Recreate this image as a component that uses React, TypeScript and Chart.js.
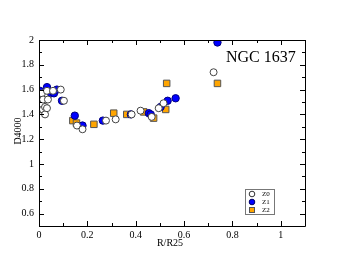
import React, { useEffect, useRef } from "react";
import { Chart, registerables } from "chart.js";

Chart.register(...registerables);

const z0X = [0.004, 0.012, 0.012, 0.016, 0.017, 0.025, 0.025, 0.033, 0.033, 0.037, 0.058, 0.09, 0.103, 0.157, 0.18, 0.277, 0.317, 0.383, 0.42, 0.466, 0.495, 0.515, 0.722];
const z0Y = [1.52, 1.57, 1.48, 1.44, 1.52, 1.46, 1.40, 1.59, 1.45, 1.52, 1.59, 1.60, 1.51, 1.31, 1.28, 1.35, 1.36, 1.40, 1.43, 1.38, 1.45, 1.49, 1.74];

const z1X = [0.004, 0.033, 0.05, 0.062, 0.074, 0.095, 0.148, 0.18, 0.264, 0.38, 0.454, 0.462, 0.503, 0.532, 0.565, 0.738];
const z1Y = [1.59, 1.62, 1.57, 1.57, 1.60, 1.51, 1.39, 1.31, 1.35, 1.40, 1.41, 1.40, 1.46, 1.51, 1.53, 1.98];

const z2X = [0.004, 0.14, 0.155, 0.227, 0.309, 0.363, 0.433, 0.474, 0.524, 0.528, 0.738];
const z2Y = [1.44, 1.35, 1.33, 1.32, 1.41, 1.40, 1.42, 1.37, 1.44, 1.65, 1.65];

const xTicks = [0, 0.2, 0.4, 0.6, 0.8, 1];
const yTicks = [0.6, 0.8, 1, 1.2, 1.4, 1.6, 1.8, 2];
const seriesNames = ["Z0", "Z1", "Z2"];
const chartTitle = "NGC 1637";
const xTitle = "R/R25";
const yTitle = "D4000";

const SERIF = "'Liberation Serif', 'DejaVu Serif', serif";

const toPts = (xs: number[], ys: number[]) => xs.map((x, i) => ({ x, y: ys[i] }));

const framePlugin = {
  id: "framePlugin",
  afterDraw(chart: any) {
    const { ctx, chartArea: a, scales } = chart;
    const xs = scales.x;
    const ys = scales.y;
    ctx.save();
    ctx.strokeStyle = "#000";
    ctx.lineWidth = 1;
    ctx.beginPath();
    ctx.rect(Math.round(a.left) + 0.5, Math.round(a.top) + 0.5, Math.round(a.right - a.left), Math.round(a.bottom - a.top));
    ctx.stroke();
    ctx.beginPath();
    for (let k = 0; k <= 11; k++) {
      const v = k / 10;
      const len = k % 2 === 0 ? 5 : 3;
      const px = Math.round(xs.getPixelForValue(v)) + 0.5;
      ctx.moveTo(px, a.bottom);
      ctx.lineTo(px, a.bottom - len);
      ctx.moveTo(px, a.top);
      ctx.lineTo(px, a.top + len);
    }
    for (let k = 5; k <= 20; k++) {
      const v = k / 10;
      const len = k % 2 === 0 ? 5 : 3;
      const py = Math.round(ys.getPixelForValue(v)) + 0.5;
      ctx.moveTo(a.left, py);
      ctx.lineTo(a.left + len, py);
      ctx.moveTo(a.right, py);
      ctx.lineTo(a.right - len, py);
    }
    ctx.stroke();

    ctx.fillStyle = "#000";
    ctx.font = `16px ${SERIF}`;
    ctx.textAlign = "left";
    ctx.textBaseline = "middle";
    ctx.fillText(chartTitle, 226, 58);

    ctx.font = `10px ${SERIF}`;
    ctx.textAlign = "center";
    ctx.fillText(xTitle, 170, 243);
    ctx.save();
    ctx.translate(18, 131);
    ctx.rotate(-Math.PI / 2);
    ctx.fillText(yTitle, 0, 0);
    ctx.restore();

    const lx = 245, ly = 189, lw = 29, lh = 25;
    ctx.fillStyle = "#fff";
    ctx.fillRect(lx, ly, lw, lh);
    ctx.strokeStyle = "#777";
    ctx.strokeRect(lx + 0.5, ly + 0.5, lw, lh);
    const rowY = [194, 202, 210];
    ctx.font = `7px ${SERIF}`;
    ctx.textAlign = "left";
    seriesNames.forEach((name, i) => {
      const cx = 252;
      const cy = rowY[i];
      ctx.lineWidth = 1;
      if (i === 0) {
        ctx.beginPath();
        ctx.arc(cx, cy, 2.8, 0, Math.PI * 2);
        ctx.fillStyle = "#fff";
        ctx.fill();
        ctx.strokeStyle = "#333";
        ctx.stroke();
      } else if (i === 1) {
        ctx.beginPath();
        ctx.arc(cx, cy, 2.8, 0, Math.PI * 2);
        ctx.fillStyle = "#0000ff";
        ctx.fill();
        ctx.strokeStyle = "#000066";
        ctx.stroke();
      } else {
        ctx.fillStyle = "#ffa500";
        ctx.fillRect(cx - 2.5, cy - 2.5, 5, 5);
        ctx.strokeStyle = "#555";
        ctx.strokeRect(cx - 2.5, cy - 2.5, 5, 5);
      }
      ctx.fillStyle = "#000";
      ctx.fillText(name, 262, cy);
    });
    ctx.restore();
  },
};

export default function App() {
  const ref = useRef<HTMLCanvasElement | null>(null);
  useEffect(() => {
    if (!ref.current) return;
    const chart = new Chart(ref.current, {
      type: "scatter",
      data: {
        datasets: [
          {
            label: seriesNames[0],
            data: toPts(z0X, z0Y),
            pointStyle: "circle",
            pointRadius: 3.5,
            backgroundColor: "#ffffff",
            borderColor: "#444444",
            borderWidth: 1,
          },
          {
            label: seriesNames[1],
            data: toPts(z1X, z1Y),
            pointStyle: "circle",
            pointRadius: 3.7,
            backgroundColor: "#0000ff",
            borderColor: "#000080",
            borderWidth: 1,
          },
          {
            label: seriesNames[2],
            data: toPts(z2X, z2Y),
            pointStyle: "rect",
            pointRadius: 4.6,
            backgroundColor: "#ffa500",
            borderColor: "#555555",
            borderWidth: 1,
          },
        ],
      },
      options: {
        animation: false,
        responsive: false,
        maintainAspectRatio: false,
        layout: { padding: { left: 0, right: 39, top: 40, bottom: 0 } },
        plugins: { legend: { display: false }, tooltip: { enabled: false }, title: { display: false } },
        scales: {
          x: {
            type: "linear",
            min: 0,
            max: 1.1,
            grid: { display: false, drawTicks: false },
            border: { display: false },
            afterBuildTicks: (s: any) => {
              s.ticks = xTicks.map((v) => ({ value: v }));
            },
            afterFit: (s: any) => {
              s.height = 40;
            },
            ticks: {
              padding: 3,
              color: "#000",
              font: { family: SERIF, size: 10 },
              callback: (v: any) => String(Math.round(Number(v) * 10) / 10),
            },
          },
          y: {
            type: "linear",
            min: 0.5,
            max: 2,
            grid: { display: false, drawTicks: false },
            border: { display: false },
            afterBuildTicks: (s: any) => {
              s.ticks = yTicks.map((v) => ({ value: v }));
            },
            afterFit: (s: any) => {
              s.width = 39;
            },
            ticks: {
              padding: 5,
              color: "#000",
              font: { family: SERIF, size: 10 },
              callback: (v: any) => String(Math.round(Number(v) * 10) / 10),
            },
          },
        },
      },
      plugins: [framePlugin],
    });
    return () => chart.destroy();
  }, []);
  return (
    <div style={{ position: "fixed", left: 0, top: 0, width: 344, height: 266, background: "#fff" }}>
      <canvas ref={ref} width={344} height={266} style={{ width: 344, height: 266 }} />
    </div>
  );
}
